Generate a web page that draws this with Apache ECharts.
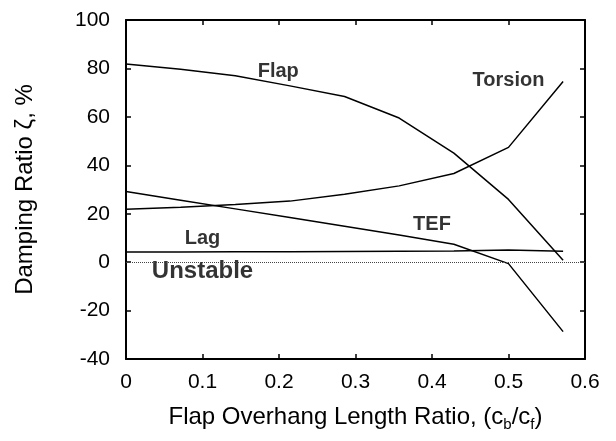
<!DOCTYPE html>
<html>
<head>
<meta charset="utf-8">
<script src="https://cdn.jsdelivr.net/npm/echarts@6/dist/echarts.min.js"></script>
</head>
<body style="margin:0;background:#fff">
<div id="chart" style="width:616px;height:441px"></div>
<script>
// Flap overhang length ratio c_b/c_f at each computed case
const ratio = [0, 0.0714, 0.1429, 0.2143, 0.2857, 0.3571, 0.4286, 0.5, 0.5714];

// Damping ratio (%) per mode
const flap    = [81.8, 79.7, 77.0, 72.8, 68.4, 59.5, 45.0, 25.9, 0.8];
const torsion = [21.8, 22.7, 23.8, 25.2, 28.0, 31.5, 36.6, 47.4, 74.6];
const tef     = [29.2, 25.6, 22.0, 18.4, 14.8, 11.2, 7.4, -0.6, -28.7];
const lag     = [4.2, 4.2, 4.3, 4.3, 4.4, 4.5, 4.6, 5.0, 4.5];

// Curve annotations placed in data space
const noteText = ['Flap', 'Torsion', 'TEF', 'Lag', 'Unstable'];
const noteX    = [0.199, 0.50, 0.40, 0.10, 0.10];
const noteY    = [78.9, 74.9, 15.6, 9.8, -4.0];
const noteSize = [20, 20, 20, 20, 24];

const FONT = 'Liberation Sans, Arial, sans-serif';
const pair = (xs, ys) => xs.map((x, i) => [x, ys[i]]);

const lineSeries = (name, vals) => ({
  name, type: 'line', data: pair(ratio, vals),
  showSymbol: false, symbol: 'none', silent: true,
  lineStyle: { color: '#000', width: 1.5 }
});

const chart = echarts.init(document.getElementById('chart'));
chart.setOption({
  animation: false,
  grid: { left: 126, right: 25, top: 19, bottom: 82 },
  xAxis: [
    {
      type: 'value', min: 0, max: 0.6, interval: 0.1,
      axisLine: { show: true, onZero: false, lineStyle: { color: '#000', width: 2 } },
      axisTick: { show: true, inside: true, length: 5, lineStyle: { color: '#000', width: 1.5 } },
      splitLine: { show: false },
      axisLabel: { color: '#000', fontSize: 21, fontFamily: FONT, margin: 13,
        formatter: v => String(+v.toFixed(1)) },
      name: '{a|Flap Overhang Length Ratio, (c}{s|b}{a|/c}{s|f}{a|)}',
      nameLocation: 'middle', nameGap: 43,
      nameTextStyle: { rich: {
        a: { fontSize: 24, fontFamily: FONT, color: '#000', lineHeight: 30, verticalAlign: 'middle' },
        s: { fontSize: 15, fontFamily: FONT, color: '#000', lineHeight: 15, verticalAlign: 'bottom' }
      } }
    },
    {
      // mirrored frame edge along the top
      type: 'value', position: 'top', min: 0, max: 0.6, interval: 0.1,
      axisLine: { show: true, onZero: false, lineStyle: { color: '#000', width: 2 } },
      axisTick: { show: true, inside: true, length: 5, lineStyle: { color: '#000', width: 1.5 } },
      axisLabel: { color: 'rgba(0,0,0,0)' },
      splitLine: { lineStyle: { color: 'rgba(0,0,0,0)' } }
    }
  ],
  yAxis: [
    {
      type: 'value', min: -40, max: 100, interval: 20,
      axisLine: { show: true, onZero: false, lineStyle: { color: '#000', width: 2 } },
      axisTick: { show: true, inside: true, length: 5, lineStyle: { color: '#000', width: 1.5 } },
      splitLine: { show: false },
      axisLabel: { color: '#000', fontSize: 21, fontFamily: FONT, margin: 16 },
      name: 'Damping Ratio ζ, %', nameLocation: 'middle', nameGap: 89,
      nameTextStyle: { color: '#000', fontSize: 24, fontFamily: FONT }
    },
    {
      // mirrored frame edge along the right side
      type: 'value', position: 'right', min: -40, max: 100, interval: 20,
      axisLine: { show: true, onZero: false, lineStyle: { color: '#000', width: 2 } },
      axisTick: { show: true, inside: true, length: 5, lineStyle: { color: '#000', width: 1.5 } },
      axisLabel: { color: 'rgba(0,0,0,0)' },
      splitLine: { lineStyle: { color: 'rgba(0,0,0,0)' } }
    }
  ],
  series: [
    lineSeries('Flap', flap),
    lineSeries('Torsion', torsion),
    lineSeries('TEF', tef),
    Object.assign(lineSeries('Lag', lag), {
      markLine: {
        silent: true, symbol: 'none', label: { show: false },
        lineStyle: { color: '#444', type: 'dotted', width: 1 },
        data: [{ yAxis: 0 }]
      }
    }),
    {
      type: 'scatter', symbolSize: 0, silent: true,
      label: { show: true, position: 'inside', color: '#000',
        textBorderWidth: 0, fontWeight: 'bold', fontFamily: FONT },
      data: noteText.map((t, i) => ({
        value: [noteX[i], noteY[i]],
        label: { formatter: t, fontSize: noteSize[i] }
      }))
    }
  ]
});
</script>
</body>
</html>
